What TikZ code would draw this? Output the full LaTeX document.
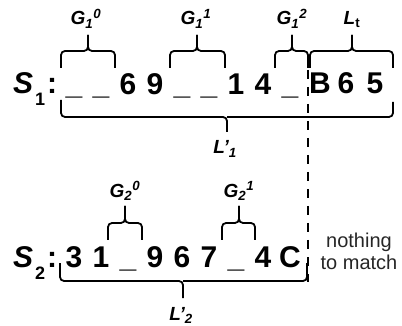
\documentclass[tikz,border=0pt]{standalone}
\usepackage{fontspec}
\setmainfont{Liberation Sans}

\tikzset{
	zeichen/.style={font=\fontsize{30}{30}\selectfont\bfseries, anchor=base, inner sep=0pt},
	marke/.style={font=\fontsize{19}{19}\selectfont\bfseries\itshape, anchor=base, inner sep=0pt},
	klammer/.style={line width=1.8pt, rounded corners=4pt},
}

\begin{document}
\begin{tikzpicture}[x=1pt, y=-1pt]
	\useasboundingbox (0,0) rectangle (402,326);
	
	% Folge S1
	\node[zeichen, anchor=base west] (s1) at (13,94)
		{{\itshape S}\kern2pt\raisebox{-12pt}{\fontsize{18}{18}\selectfont 1}\kern2pt:};
	\foreach \c [count=\i from 0] in {\_,\_,6,9,\_,\_,1,4,\_}
		\node[zeichen] (s1-\i) at (74+27*\i,95) {\c};
	\node[zeichen] (s1-b) at (320,94) {B};
	\node[zeichen] (s1-6) at (346,94) {6};
	\node[zeichen] (s1-5) at (375,94) {5};
	
	% Folge S2
	\node[zeichen, anchor=base west] (s2) at (13,267)
		{{\itshape S}\kern2pt\raisebox{-12pt}{\fontsize{18}{18}\selectfont 2}\kern2pt:};
	\foreach \c [count=\i from 0] in {3,1,\_,9,6,7,\_,4,C}
		\node[zeichen] (s2-\i) at (74+27*\i,267) {\c};
	
	% Trennlinie
	\coordinate (trenn-o) at (308,70);
	\coordinate (trenn-u) at (308,282);
	\draw[line width=2pt, dash pattern=on 9pt off 8pt] (trenn-o) -- (trenn-u);
	
	% Klammern oben S1
	\foreach \l/\m/\r in {61/88/115, 170/197/225, 275/292/308, 310/352/393} {
		\draw[klammer] (\l,68) |- (\m,51) -- (\m,35);
		\draw[klammer] (\r,68) |- (\m,51) -- (\m,35);
	}
	% Klammer unten S1
	\draw[klammer] (61,100) |- (227,117) -- (227,132);
	\draw[klammer] (393,102) |- (227,117);
	
	% Klammern oben S2
	\foreach \l/\m/\r in {108/125/142, 222/239/255} {
		\draw[klammer] (\l,240) |- (\m,223) -- (\m,206);
		\draw[klammer] (\r,240) |- (\m,223) -- (\m,206);
	}
	% Klammer unten S2
	\draw[klammer] (60,263) |- (183,281) -- (183,298);
	\draw[klammer] (307,263) |- (183,281);
	
	% Beschriftung
	\node[marke] (g10) at (86,25) {G\textsubscript{1}\textsuperscript{0}};
	\node[marke] (g11) at (196,25) {G\textsubscript{1}\textsuperscript{1}};
	\node[marke] (g12) at (292,25) {G\textsubscript{1}\textsuperscript{2}};
	\node[marke] (lt) at (352,25) {L\textsubscript{\upshape t}};
	\node[marke] (l1) at (225,154) {L'\textsubscript{1}};
	\node[marke] (g20) at (125,197) {G\textsubscript{2}\textsuperscript{0}};
	\node[marke] (g21) at (239,197) {G\textsubscript{2}\textsuperscript{1}};
	\node[marke] (l2) at (181,320) {L'\textsubscript{2}};
	\node[align=center, font=\fontsize{20}{22}\selectfont, text=black!85] (rest) at (359,251)
		{nothing\\to match};
	
\end{tikzpicture}
\end{document}
